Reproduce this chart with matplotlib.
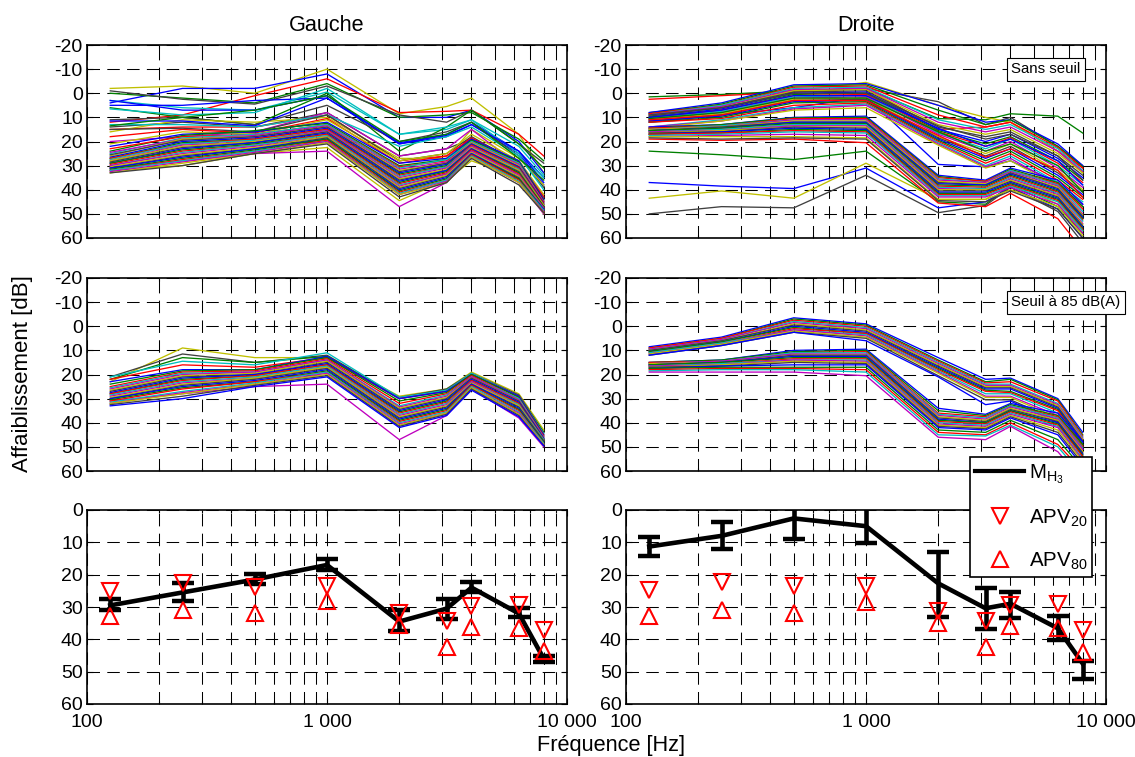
"""Attenuation curves per ear: raw, thresholded, and summary with APV markers."""

import matplotlib
matplotlib.use("Agg")
import matplotlib.pyplot as plt
from matplotlib.lines import Line2D
from matplotlib.ticker import FixedLocator, FixedFormatter, NullFormatter

plt.rcParams["font.family"] = ["Liberation Sans", "DejaVu Sans"]
plt.rcParams["mathtext.fontset"] = "custom"
plt.rcParams["mathtext.rm"] = "Liberation Sans"
plt.rcParams["axes.unicode_minus"] = False

FREQS = [125, 250, 500, 1000, 2000, 3150, 4000, 6300, 8000]
MATLAB_COLORS = ["#0000ff", "#008000", "#ff0000", "#00bfbf", "#bf00bf", "#bfbf00", "#404040"]

# top left: scattered curves, then the dense band
left_raw_outliers = [
    [-2, -3, 0, -10, 8.5, 5.5, 2, 17, 33],
    [4, -2, -2, -8, 10, 10, 7, 20, 33],
    [12, 9, 1, -6, 8, 7.5, 7, 17, 26],
    [0, 2, 4, -4, 10, 9, 8, 19, 28],
    [-1, 2.5, 4.5, -3, 9, 12, 7, 21, 29],
    [3, 6, 7, -0.5, 17, 15, 11, 22, 34],
    [6, 10, 13, 0, 24, 14, 7, 21, 31],
    [3, 7, 7, 1, 21, 17, 12, 24, 35],
    [5, 5, 3, 2, 21, 18, 13, 25, 38],
    [6.5, 9, 8, -2, 17, 14, 11, 25, 35],
    [11, 10, 13, 5, 20, 16, 12, 26, 39],
    [14, 12, 14, 8, 26, 23, 19, 28, 43],
    [15, 14, 14, 9, 28, 26, 19, 30, 45],
    [16, 11, 12, 10, 27, 27, 15, 27, 38],
    [20, 18, 16, 8, 26, 23, 15, 30, 42],
    [11.5, 11.5, 13.5, 2, 20.5, 17.5, 13, 24, 37],
    [13, 13, 14, 9, 22, 18, 14, 26, 40],
    [13.5, 10, 7, 1, 20, 17, 12, 27, 36],
    [15, 14.5, 16, 9, 28, 25, 18, 29, 44],
    [18, 15, 16.5, 10.5, 29, 26, 18.5, 29, 43],
    [21, 16, 17, 11, 28, 25, 17, 28, 42],
]
left_raw_outlier_colors = ["#bfbf00", "#0000ff", "#ff0000", "#008000", "#404040", "#00bfbf", "#008000",
                           "#0000ff", "#0000ff", "#00bfbf", "#404040", "#404040", "#ff0000",
                           "#bfbf00", "#bf00bf", "#0000ff", "#00bfbf", "#008000", "#404040",
                           "#ff0000", "#bfbf00"]
left_raw_low = [
    [32, 30, 25, 22.5, 44.5, 36, 28, 35, 50],
    [31, 28, 25, 24, 47, 37, 26, 37, 50],
]
left_raw_band = [
    [22, 17, 16, 12, 29, 27, 19, 28, 44],
    [24, 17.5, 15.5, 12.5, 30, 27.5, 19.5, 28.5, 44.5],
    [23, 18, 17, 13, 30.5, 28, 20, 29, 45],
    [25, 18.5, 17, 13, 31, 27.5, 20, 29, 45.5],
    [24.5, 19, 17.5, 13.5, 31.5, 28.5, 20.5, 29.5, 45],
    [26, 19, 18, 14, 32, 29, 20.5, 30, 46],
    [25.5, 19.5, 18, 14, 32.5, 29, 21, 30.5, 45.5],
    [26.5, 20, 18.5, 14.5, 33, 29.5, 21, 30.5, 46],
    [27, 20.5, 19, 15, 33.5, 30, 21.5, 31, 46.5],
    [27, 21, 19, 15, 34, 30.5, 21.5, 31, 46],
    [27.5, 21, 19.5, 15.5, 34.5, 30.5, 22, 31.5, 46.5],
    [28, 21.5, 20, 15.5, 35, 31, 22, 32, 47],
    [28, 22, 20, 16, 35.5, 31.5, 22.5, 32, 46.5],
    [28.5, 22.5, 20.5, 16, 36, 32, 23, 32.5, 47],
    [29, 23, 20.5, 16.5, 36.5, 32, 23, 33, 47.5],
    [29, 23.5, 21, 17, 37, 32.5, 23.5, 33, 47],
    [29.5, 24, 21.5, 17, 37.5, 33, 23.5, 33.5, 47.5],
    [30, 24.5, 21.5, 17.5, 38, 33.5, 24, 34, 48],
    [30, 25, 22, 18, 38.5, 33.5, 24, 34, 47.5],
    [30.5, 25.5, 22.5, 18, 39, 34, 24.5, 34.5, 48],
    [31, 26, 23, 18.5, 39.5, 34.5, 25, 35, 48.5],
    [31, 26.5, 23, 19, 40, 35, 25, 35.5, 48],
    [31.5, 27, 23.5, 19, 40.5, 35.5, 25.5, 35.5, 48.5],
    [32, 27.5, 24, 19.5, 41, 36, 25.5, 36, 49],
    [32, 28, 24, 20, 41.5, 36, 26, 36.5, 48.5],
    [32.5, 28.5, 24.5, 20, 42, 36.5, 26.5, 37, 49],
    [33, 29, 25, 20.5, 42, 37, 26.5, 37, 49.5],
    [33, 30, 25, 21, 43, 37, 27, 38, 49.5],
]

# top right
right_raw_outliers = [
    [1.5, 0.5, -1, -2, 10.5, 11, 8.5, 9.5, 16.5],
    [2.5, 1, -0.5, -2, 15, 14, 12, 24, 31],
    [24, 25.5, 27.5, 24, 45, 46, 38, 47, 58],
    [37, 38.5, 39.5, 31, 47.5, 45, 39, 48, 60],
    [43.5, 40.5, 43.5, 29, 44, 44, 37, 46, 57],
    [50, 47, 47.5, 34, 49.5, 46.5, 39, 49, 62],
    [19, 19.5, 19, 20.5, 45.5, 47, 41.5, 52, 65],
    [12, 9, 6, 1.5, 29.5, 30.5, 28, 37, 47],
    [8, 5, -1, -2, 3.5, 13, 10, 22, 30],
    [8.5, 5, -1, -4.5, 5, 10, 12, 24, 33],
]
right_raw_outlier_colors = ["#008000", "#ff0000", "#008000", "#0000ff", "#bfbf00", "#404040",
                            "#ff0000", "#0000ff", "#404040", "#bfbf00"]
right_raw_upper = [
    [8, 4, -3.5, -4, 5, 12, 11, 21, 30],
    [8.5, 4.5, -3, -3.5, 7, 13, 11, 22, 30.5],
    [8.5, 5, -2.5, -3, 9, 14, 12, 22.5, 31],
    [9, 5, -2, -2.5, 11, 15, 13, 23, 32],
    [9, 5.5, -1.5, -2, 12, 16, 14, 24, 32.5],
    [9.5, 6, -1, -1.5, 13, 17, 15, 25, 33],
    [9.5, 6, -0.5, -1, 14, 18, 16, 26, 34],
    [10, 6.5, 0, -0.5, 15, 20, 17, 27, 35],
    [10, 7, 0.5, 0, 15.5, 21, 18, 28, 36],
    [10.5, 7, 1, 0.5, 16, 22, 18.5, 29, 37],
    [10.5, 7.5, 1.5, 1, 16.5, 23, 19, 30, 38],
    [11, 8, 2, 1.5, 17, 24, 20, 31, 39],
    [11, 8.5, 2.5, 2, 18, 25, 21, 32, 40],
    [11.5, 9, 3, 2.5, 18.5, 26, 22, 33, 41],
    [11.5, 9.5, 3.5, 3, 19, 27, 23, 34, 42],
    [12, 10, 4, 3.5, 19.5, 28, 24, 35, 43],
    [12, 10.5, 5, 4, 20, 29, 25, 36, 44],
    [14, 11, 6, 4.5, 20.5, 30, 26, 37, 45],
    [14, 11.5, 6.5, 5, 21, 30.5, 27, 38, 46],
    [14.5, 11.5, 7, 6, 21.5, 31, 28, 38.5, 47],
    [9, 6, 0, 0, 13.5, 19, 17, 26, 36],
    [10, 7, 1, 1, 14.5, 22, 19, 28, 38],
    [10.5, 8, 2, 2, 16, 24, 21, 30, 41],
    [11, 9, 3, 3, 17.5, 26.5, 23, 32, 43],
]
right_raw_lower = [
    [14, 13, 10, 9.5, 34, 36, 31, 36, 46],
    [14.5, 13, 10.2, 10, 34.5, 36.5, 31.5, 37, 47],
    [14.5, 13.5, 10.5, 10.5, 35, 36.5, 32, 37.5, 48],
    [15, 13.5, 11, 11, 35.5, 37, 32, 38, 49],
    [15, 14, 11, 11, 36, 37, 32.5, 38.5, 50],
    [15, 14, 11.5, 11.5, 36.5, 37.5, 33, 39, 50.5],
    [15.5, 14, 12, 12, 37, 38, 33, 39.5, 51],
    [15.5, 14.5, 12, 12, 37.5, 38, 33.5, 40, 51.5],
    [15.5, 14.5, 12.5, 12.5, 38, 38.5, 34, 40.5, 52],
    [16, 15, 13, 13, 38.5, 39, 34.5, 41, 52.5],
    [16, 15, 13, 13, 39, 39.5, 35, 41.5, 53],
    [16, 15.5, 13.5, 13.5, 39.5, 40, 35.5, 42, 54],
    [16.5, 15.5, 14, 14, 40, 40, 36, 42.5, 54.5],
    [16.5, 16, 14, 14.5, 40.5, 40.5, 36.5, 43, 55],
    [17, 16, 14.5, 15, 41, 41, 37, 43.5, 55.5],
    [17, 16.5, 15, 15.5, 41.5, 41.5, 37.5, 44, 56],
    [17, 16.5, 15.5, 16, 42, 42, 38, 44.5, 56.5],
    [17.5, 17, 16, 16.5, 42.5, 42.5, 38.5, 45, 57],
    [18, 17.5, 17, 17.5, 43, 43, 39, 46, 58],
    [18, 18, 18, 18.5, 44, 44, 40, 47, 59],
    [18.5, 19, 18.5, 19, 44.5, 45, 40.5, 48, 60],
]

# middle left
left_thr_outliers = [
    [23, 9, 13, 13, 29, 26, 19, 28, 43],
    [21, 11.5, 15, 12, 29.5, 26, 19.5, 28.5, 44],
    [22, 13, 15, 12.5, 30, 26.5, 20, 29, 44],
    [21, 14.5, 16, 11, 29.5, 26.5, 19.5, 29, 44.5],
    [22, 16, 17, 13, 30, 27, 20, 29, 45],
    [31, 28, 25, 24, 47, 37, 26, 38, 50],
]
left_thr_outlier_colors = ["#bfbf00", "#404040", "#008000", "#00bfbf", "#ff0000", "#bf00bf"]
left_thr_band = [
    [23, 18, 18, 12.5, 30, 27, 20, 29, 45],
    [24, 18.5, 18, 13, 31, 27.5, 20, 29.5, 45.5],
    [25, 19, 18.5, 13.5, 32, 28, 20.5, 30, 45.5],
    [25.5, 19.5, 19, 14, 33, 28.5, 21, 30, 46],
    [26, 20, 19, 14, 33.5, 29, 21, 30.5, 46],
    [26.5, 20.5, 19.5, 14.5, 34, 29.5, 21.5, 31, 46.5],
    [27, 21, 20, 15, 34.5, 30, 21.5, 31, 46.5],
    [27.5, 21.5, 20, 15.5, 35, 30.5, 22, 31.5, 46.5],
    [28, 22, 20.5, 16, 35.5, 31, 22.5, 32, 47],
    [28, 22.5, 20.5, 16, 36, 31.5, 22.5, 32, 47],
    [28.5, 23, 21, 16.5, 36.5, 32, 23, 32.5, 47],
    [29, 23.5, 21.5, 17, 37, 32.5, 23, 33, 47.5],
    [29.5, 24, 21.5, 17, 37.5, 33, 23.5, 33, 47.5],
    [30, 24.5, 22, 17.5, 38, 33.5, 24, 33.5, 47.5],
    [30, 25, 22.5, 18, 38.5, 34, 24, 34, 48],
    [30.5, 25.5, 23, 18.5, 39, 34.5, 24.5, 34.5, 48],
    [31, 26, 23, 19, 39.5, 35, 24.5, 35, 48.5],
    [31.5, 27, 23.5, 19, 40, 35.5, 25, 35.5, 48.5],
    [32, 27.5, 24, 19.5, 40.5, 36, 25.5, 36, 49],
    [32, 28, 24, 20, 41, 36, 25.5, 36.5, 49],
    [32.5, 29, 24.5, 20.5, 41.5, 36.5, 26, 37, 49.5],
    [33, 30, 25, 21, 42, 37, 26.5, 37.5, 49.5],
]

# middle right
right_thr_upper = [
    [8.5, 4.5, -3.5, -1, 13, 22, 21.5, 30, 44],
    [9, 5, -3, -0.5, 14, 23, 22, 30.5, 45],
    [9, 5, -2.5, 0, 14.5, 23.5, 23, 31, 45.5],
    [9.5, 5.5, -2, 0.5, 15, 24, 24, 32, 46],
    [9.5, 5.5, -1.5, 1, 15.5, 24.5, 24.5, 32.5, 46.5],
    [10, 6, -1, 1.5, 16, 25, 25, 33, 47],
    [10, 6, -0.5, 2, 16.5, 25.5, 25.5, 33.5, 47.5],
    [10.5, 6.5, 0, 2.5, 17, 26, 26, 34, 48],
    [10.5, 6.5, 0.5, 3, 17.5, 26.5, 27, 34.5, 49],
    [11, 7, 1, 3, 18, 27, 27.5, 35, 49.5],
    [11, 7, 1.5, 3.5, 18.5, 28, 28, 36, 50],
    [11.5, 7.5, 1.5, 4, 19, 29, 29, 37, 51],
    [11.5, 7.5, 2, 4.5, 19.5, 29.5, 29.5, 38, 52],
    [12, 8, 2.5, 5, 20.5, 30.5, 30.5, 39, 53],
    [12, 8, 2.5, 6, 21, 32.5, 31, 40, 54],
]
right_thr_lower = [
    [15, 14, 10, 9.5, 34, 36.5, 32, 36, 48],
    [15, 14, 10.5, 10, 35, 37, 32.5, 37, 49],
    [15, 14.5, 11, 10.5, 36, 37.5, 33, 37.5, 50],
    [15.5, 14.5, 11, 11, 36.5, 38, 33, 38, 50.5],
    [15.5, 14.5, 11.5, 11.5, 37, 38.5, 33.5, 38.5, 51],
    [15.5, 15, 12, 12, 37.5, 39, 34, 39, 52],
    [16, 15, 12, 12, 38, 39.5, 34.5, 39.5, 52.5],
    [16, 15, 12.5, 12.5, 38.5, 40, 35, 40, 53],
    [16, 15, 13, 13, 39, 40, 35, 40.5, 53.5],
    [16.5, 15.5, 13.5, 13.5, 39.5, 40.5, 35.5, 41, 54],
    [16.5, 15.5, 14, 14, 40, 41, 36, 41.5, 55],
    [16.5, 16, 14, 14.5, 40.5, 41.5, 36.5, 42, 55.5],
    [17, 16, 14.5, 15, 41, 42, 37, 43, 56],
    [17, 16.5, 15, 15.5, 41.5, 42.5, 37.5, 44, 57],
    [17.5, 16.5, 16, 16, 42, 43, 38, 45, 58],
    [17.5, 17, 17, 17, 43, 44, 39, 47, 59],
    [18, 17.5, 17.5, 18, 44, 45, 40, 49, 60],
    [18.5, 18, 18, 19, 45, 45.5, 41, 50, 62],
    [19, 19, 19, 20.5, 46, 47, 41.5, 52, 64],
]

# bottom row
left_mean = [29.5, 25.5, 21.5, 17, 34.5, 30.5, 24, 32, 46]
left_err_low = [27.4, 22.6, 19.7, 15, 30.8, 27.4, 22.2, 30.2, 45.2]
left_err_high = [30.8, 28.1, 23, 18.6, 37.5, 33.6, 25.3, 33.1, 47]
left_apv20 = [25, 22.5, 23.8, 23.6, 31.8, 34.3, 29.7, 29.5, 37.2]
left_apv80 = [32.9, 31, 31.8, 28.2, 35.5, 42.4, 36.2, 36.4, 43.7]

right_mean = [11.3, 8, 2.6, 5, 22.7, 30.4, 29, 36.6, 47.5]
right_err_low = [8.2, 3.6, -4, -1, 13, 24.2, 25.4, 32.9, 46.6]
right_err_high = [14.2, 12, 9, 10.3, 33, 36.8, 33.5, 40.2, 52.4]
right_apv20 = [24.8, 22.3, 23.5, 23.4, 31.3, 34.2, 29.5, 29, 37]
right_apv80 = [32.7, 31, 31.8, 28.3, 35, 42.3, 35.9, 36.6, 43.8]

XTICKS = [100, 1000, 10000]
XTICK_LABELS = ["100", "1 000", "10 000"]
XMINOR = [200, 300, 400, 500, 600, 700, 800, 900, 2000, 3000, 4000, 5000, 6000, 7000, 8000, 9000]
DASH = (0, (12, 7))
W, H = 1135, 757


def make_axes(fig, x0, x1, y0, y1, ylim, yticks, show_x):
    ax = fig.add_axes([x0 / W, 1 - y1 / H, (x1 - x0) / W, (y1 - y0) / H])
    ax.set_xscale("log")
    ax.set_xlim(100, 10000)
    ax.set_ylim(*ylim)
    ax.xaxis.set_major_locator(FixedLocator(XTICKS))
    ax.xaxis.set_minor_locator(FixedLocator(XMINOR))
    ax.xaxis.set_minor_formatter(NullFormatter())
    if show_x:
        ax.xaxis.set_major_formatter(FixedFormatter(XTICK_LABELS))
    else:
        ax.xaxis.set_major_formatter(NullFormatter())
    ax.set_yticks(yticks)
    ax.grid(True, which="major", color="black", linewidth=0.75, linestyle=DASH)
    ax.grid(True, which="minor", axis="x", color="black", linewidth=0.75, linestyle=DASH)
    ax.set_axisbelow(True)
    ax.tick_params(which="both", direction="in", top=True, right=True, labelsize=14, pad=3)
    ax.tick_params(which="major", length=4, width=0.8)
    ax.tick_params(which="minor", length=2.5, width=0.8)
    ax.tick_params(axis="x", pad=7)
    for spine in ax.spines.values():
        spine.set_linewidth(1.2)
    return ax


def draw_curves(ax, curves, colors=None):
    for i, curve in enumerate(curves):
        color = colors[i] if colors else MATLAB_COLORS[i % len(MATLAB_COLORS)]
        ax.plot(FREQS, curve, color=color, linewidth=0.95)


def draw_summary(ax, mean, low, high, apv20, apv80):
    yerr = [[m - l for m, l in zip(mean, low)], [h - m for m, h in zip(mean, high)]]
    ax.errorbar(FREQS, mean, yerr=yerr, color="black", linewidth=3.3, elinewidth=3.3,
                capsize=8, capthick=3.2, zorder=3)
    ax.plot(FREQS, apv20, linestyle="none", marker="v", markersize=12, markerfacecolor="none",
            markeredgecolor="#ff0000", markeredgewidth=1.5, zorder=4)
    ax.plot(FREQS, apv80, linestyle="none", marker="^", markersize=12, markerfacecolor="none",
            markeredgecolor="#ff0000", markeredgewidth=1.5, zorder=4)


def main():
    fig = plt.figure(figsize=(W / 100, H / 100), dpi=100)

    raw_ticks = list(range(-20, 61, 10))
    sum_ticks = list(range(0, 61, 10))
    lim_raw = (60, -20)
    lim_sum = (60, 0)

    ax_tl = make_axes(fig, 87, 567, 45, 238, lim_raw, raw_ticks, False)
    ax_tr = make_axes(fig, 626, 1106, 45, 238, lim_raw, raw_ticks, False)
    ax_ml = make_axes(fig, 87, 567, 278, 471, lim_raw, raw_ticks, False)
    ax_mr = make_axes(fig, 626, 1106, 278, 471, lim_raw, raw_ticks, False)
    ax_bl = make_axes(fig, 87, 567, 510, 704, lim_sum, sum_ticks, True)
    ax_br = make_axes(fig, 626, 1106, 510, 704, lim_sum, sum_ticks, True)

    draw_curves(ax_tl, left_raw_outliers, left_raw_outlier_colors)
    draw_curves(ax_tl, left_raw_low, ["#bfbf00", "#bf00bf"])
    draw_curves(ax_tl, left_raw_band)

    draw_curves(ax_tr, right_raw_outliers, right_raw_outlier_colors)
    draw_curves(ax_tr, right_raw_upper)
    draw_curves(ax_tr, right_raw_lower)

    draw_curves(ax_ml, left_thr_outliers, left_thr_outlier_colors)
    draw_curves(ax_ml, left_thr_band)

    draw_curves(ax_mr, right_thr_upper)
    draw_curves(ax_mr, right_thr_lower)

    draw_summary(ax_bl, left_mean, left_err_low, left_err_high, left_apv20, left_apv80)
    draw_summary(ax_br, right_mean, right_err_low, right_err_high, right_apv20, right_apv80)

    ax_tl.set_title("Gauche", fontsize=15.6, pad=10)
    ax_tr.set_title("Droite", fontsize=15.6, pad=10)
    fig.text(23 / W, 1 - 374 / H, "Affaiblissement [dB]", rotation=90, fontsize=16, ha="center", va="center")
    fig.text(611 / W, 1 - 746 / H, "Fréquence [Hz]", fontsize=15.7, ha="center", va="center")

    box = dict(boxstyle="square,pad=0.3", facecolor="white", edgecolor="black", linewidth=0.8)
    fig.text(1046 / W, 1 - 69 / H, "Sans seuil", fontsize=10.8, ha="center", va="center", bbox=box)
    fig.text(1066 / W, 1 - 302 / H, "Seuil à 85 dB(A)", fontsize=10.8, ha="center", va="center", bbox=box)

    handles = [
        Line2D([], [], color="black", linewidth=3),
        Line2D([], [], linestyle="none", marker="v", markersize=12, markerfacecolor="none",
               markeredgecolor="#ff0000", markeredgewidth=1.5),
        Line2D([], [], linestyle="none", marker="^", markersize=12, markerfacecolor="none",
               markeredgecolor="#ff0000", markeredgewidth=1.5),
    ]
    labels = [r"$\mathregular{M_{H_3}}$", r"$\mathregular{APV_{20}}$", r"$\mathregular{APV_{80}}$"]
    leg = fig.legend(handles, labels, loc="upper left", bbox_to_anchor=(970 / W, 1 - 457 / H),
                     borderaxespad=0, fontsize=14.8, fancybox=False, framealpha=1, edgecolor="black",
                     labelspacing=1.05, handlelength=2.4, handletextpad=0.2, borderpad=0.25)
    leg.get_frame().set_linewidth(1.2)

    fig.savefig("out.png", dpi=100)
    plt.close(fig)


if __name__ == "__main__":
    main()
